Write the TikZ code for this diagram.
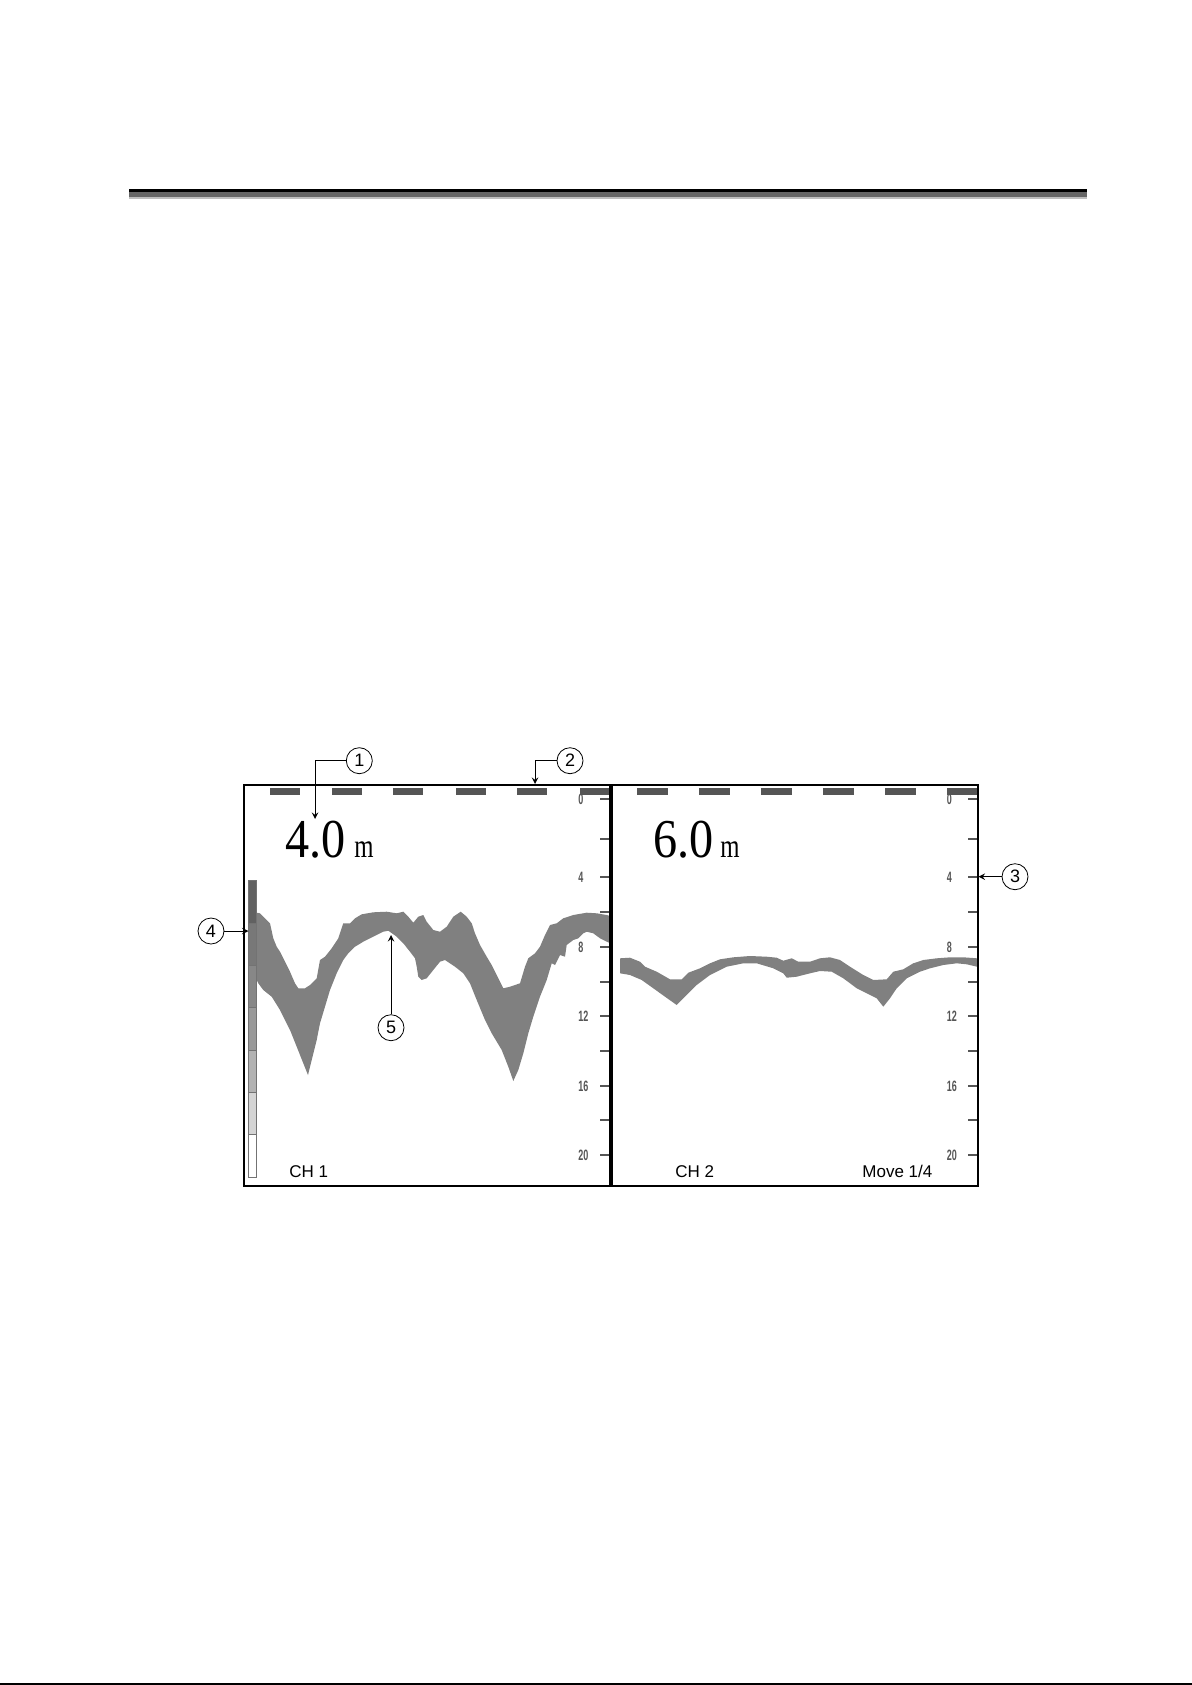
\documentclass[tikz,border=0pt]{standalone}
\usepackage{fontspec}
\setmainfont{Liberation Serif}
\setsansfont{Liberation Sans}

\definecolor{eco}{HTML}{808080}
\definecolor{escala}{HTML}{555555}

\begin{document}
\begin{tikzpicture}[
        x=0.5pt, y=-0.5pt,
        >=stealth,
        rotulo/.style={circle, draw, line width=0.4pt, minimum size=13pt, inner sep=0pt, font=\sffamily\fontsize{9}{9}\selectfont},
        seta/.style={->, line width=0.45pt},
        traco/.style={fill=escala},
        marca/.style={draw=escala, line width=1pt},
        numero/.style={anchor=west, inner sep=0pt, text=escala, font=\sffamily\bfseries\fontsize{7.5}{7.5}\selectfont},
        canal/.style={anchor=base west, inner sep=0pt, font=\sffamily\fontsize{8.5}{10}\selectfont},
        leitura/.style={anchor=base west, inner sep=0pt, font=\fontsize{27.4}{30}\selectfont},
        unidade/.style={anchor=base west, inner sep=0pt, font=\fontsize{16.7}{18}\selectfont}
    ]

        \useasboundingbox (0,0) rectangle (1192,1685);

        % ==================================================
        % FAIXA DO TOPO
        % ==================================================

        \fill[black]        (129,189) rectangle (1087,192);
        \fill[black!60]     (129,192) rectangle (1087,197.5);
        \fill[black!25]     (129,197.5) rectangle (1087,199.5);
        \draw[line width=1pt] (0,1684) -- (1192,1684);

        % ==================================================
        % ECOS
        % ==================================================

        % Canal 1
        \fill[eco] (256.7,912.7) -- (260,913.3) -- (266.7,920) -- (270,923.3) -- (273.3,938.3) -- (276.7,946.7)
            -- (280,951.7) -- (285,961.7) -- (290,971.7) -- (295,983.3) -- (298.3,988.3) -- (305,988.3)
            -- (310,985) -- (316.7,978.3) -- (320,960) -- (325,956.7) -- (331.7,948.3) -- (338.3,938.3)
            -- (343.3,923.3) -- (350,923.3) -- (355,918.3) -- (361.7,914.3) -- (373.3,912.3) -- (386.7,911.7)
            -- (396.7,913.3) -- (403.3,911.7) -- (408.3,916.7) -- (413.3,922.7) -- (418.3,916.7) -- (423.3,915)
            -- (426.7,921.7) -- (433.3,930) -- (440,931.7) -- (446.7,926.7) -- (453.3,916.7) -- (460.7,911.7)
            -- (466.7,916.7) -- (471.7,923.3) -- (475,933.3) -- (480,945) -- (486.7,956.7) -- (491.7,965)
            -- (498.3,978.3) -- (503.3,988.3) -- (510,986.7) -- (520,983.3) -- (525,966.7) -- (528.3,958.3)
            -- (535,953.3) -- (540,946.7) -- (545,935) -- (550,925) -- (556.7,923.3) -- (563.3,918.3)
            -- (573.3,915) -- (586.7,912.7) -- (596.7,913.3) -- (606.7,915) -- (610,916)
            -- (610,943) -- (606.7,941.7) -- (600,938.3) -- (593.3,933.3) -- (586.7,931.7) -- (583.3,933.3)
            -- (578.3,938.3) -- (573.3,940) -- (566.7,945) -- (565,956.7) -- (560,955) -- (555,965)
            -- (551.7,963.3) -- (546.7,980) -- (540,996.7) -- (533.3,1016.7) -- (528.3,1033.3) -- (523.3,1053.3)
            -- (518.3,1070) -- (513.3,1081) -- (508.3,1066.7) -- (501.7,1050) -- (491.7,1033.3) -- (485,1020)
            -- (476.7,1000) -- (470,983.3) -- (463.3,973.3) -- (455,966.7) -- (445,960) -- (440,961.7)
            -- (433.3,970) -- (426.7,978.3) -- (421.7,980) -- (418.3,976.7) -- (416.7,966.7) -- (415,958.3)
            -- (410,951.7) -- (403.3,943.3) -- (396.7,936.7) -- (388.3,930.7) -- (383.3,931.7) -- (373.3,936.7)
            -- (363.3,941.7) -- (355,946.7) -- (348.3,953.3) -- (343.3,960) -- (336.7,973.3) -- (330,990)
            -- (325,1006.7) -- (320,1023.3) -- (316.7,1040) -- (311.7,1060) -- (308,1075) -- (303.3,1063.3)
            -- (296.7,1046.7) -- (290,1030) -- (280,1010) -- (271.7,996.7) -- (263.3,990) -- (258.3,983.3)
            -- (256.7,980) -- cycle;

        % Canal 2
        \fill[eco] (620,958.3) -- (630,957.7) -- (640,961.7) -- (645,966.7) -- (656.7,971.7) -- (670,979.3)
            -- (681.7,979.3) -- (688.3,972.7) -- (700,968.3) -- (710,963.3) -- (720,959.3) -- (733.3,957.3)
            -- (750,956) -- (766.7,956.7) -- (776.7,957.7) -- (783.3,960.7) -- (791.7,958.3) -- (798.3,961.7)
            -- (810,961.7) -- (820,958.3) -- (830,957.3) -- (840,960) -- (850,966.7) -- (863.3,975)
            -- (873.3,980) -- (886.7,979.3) -- (893.3,971.7) -- (903.3,969.3) -- (913.3,963.3) -- (923.3,960)
            -- (936.7,958.3) -- (950,957.3) -- (963.3,957.3) -- (977,958.3)
            -- (977,966.7) -- (966.7,964.3) -- (956.7,963.3) -- (943.3,965) -- (930,968.3) -- (920,971.7)
            -- (906.7,978.3) -- (896.7,988.3) -- (890,998.3) -- (883.3,1006.7) -- (876.7,998.3) -- (866.7,993.3)
            -- (856.7,988.3) -- (843.3,978.3) -- (831.7,971.7) -- (820,971) -- (810,973.3) -- (796.7,976.7)
            -- (786.7,977.7) -- (783.3,973.3) -- (773.3,968.3) -- (756.7,963.3) -- (743.3,963.3) -- (726.7,966.7)
            -- (710,975) -- (696.7,985) -- (688.3,993.3) -- (676.7,1005) -- (665,996.7) -- (653.3,988.3)
            -- (641.7,980) -- (630,975) -- (620,973.3) -- cycle;

        % ==================================================
        % TELA
        % ==================================================

        % Tracejado do topo
        \foreach \x in {270,331.7,393,455.7,517}
            \fill[traco] (\x,788) rectangle ++(30,7);
        \fill[traco] (580,788) rectangle (610,795);
        \foreach \x in {637,699,761,823,885}
            \fill[traco] (\x,788) rectangle ++(31,7);
        \fill[traco] (947,788) rectangle (978,795);

        % Marcas de profundidade
        \foreach \y in {799,839,877,912,947,982,1016,1051,1086,1120,1155} {
            \draw[marca] (600,\y) -- (610,\y);
            \draw[marca] (968,\y) -- (978,\y);
        }
        \foreach \y/\v in {799/0,877/4,947/8,1016/12,1086/16,1155/20} {
            \node[numero] at (578,\y) {\scalebox{0.6}[1]{\v}};
            \node[numero] at (946.5,\y) {\scalebox{0.6}[1]{\v}};
        }

        % Barra de intensidade
        \fill[black!62] (248.3,880.7) rectangle (256.7,923);
        \fill[black!53] (248.3,923) rectangle (256.7,965.3);
        \fill[black!47] (248.3,965.3) rectangle (256.7,1007.7);
        \fill[black!40] (248.3,1007.7) rectangle (256.7,1050);
        \fill[black!30] (248.3,1050) rectangle (256.7,1092.3);
        \fill[black!17] (248.3,1092.3) rectangle (256.7,1134.7);
        \draw[black!55, line width=0.4pt] (248.3,880.7) rectangle (256.7,1177);
        \foreach \y in {923,965.3,1007.7,1050,1092.3,1134.7}
            \draw[black!55, line width=0.3pt] (248.3,\y) -- (256.7,\y);

        % Moldura
        \draw[line width=1pt] (244,785) rectangle (978,1186);
        \draw[line width=1.7pt] (611,785) -- (611,1186);

        % Leituras
        \node[leitura] (d1) at (285,857) {\scalebox{0.88}[1]{4.0}};
        \node[unidade] (u1) at ([xshift=4pt]d1.base east) {\scalebox{0.74}[1]{m}};
        \node[leitura] (d2) at (653,857) {\scalebox{0.88}[1]{6.0}};
        \node[unidade] (u2) at ([xshift=3pt]d2.base east) {\scalebox{0.74}[1]{m}};

        \node[canal] (ch1) at (289,1177) {CH 1};
        \node[canal] (ch2) at (675,1177) {CH 2};
        \node[canal] (mov) at (862,1177) {Move 1/4};

        % ==================================================
        % CHAMADAS
        % ==================================================

        \node[rotulo] (c1) at (359.3,760.7) {1};
        \node[rotulo] (c2) at (570,760.7) {2};
        \node[rotulo] (c3) at (1015,876.7) {3};
        \node[rotulo] (c4) at (211,931) {4};
        \node[rotulo] (c5) at (391,1027.7) {5};

        \coordinate (p1) at (315,819);
        \coordinate (p2) at (535,784);
        \coordinate (p3) at (978.5,876.7);
        \coordinate (p4) at (248.5,931);
        \coordinate (p5) at (391,935);

        % Setas
        \draw[seta] (c1.west) -| (p1);
        \draw[seta] (c2.west) -| (p2);
        \draw[seta] (c3.west) -- (p3);
        \draw[seta] (c4.east) -- (p4);
        \draw[seta] (c5.north) -- (p5);
    \end{tikzpicture}
\end{document}
